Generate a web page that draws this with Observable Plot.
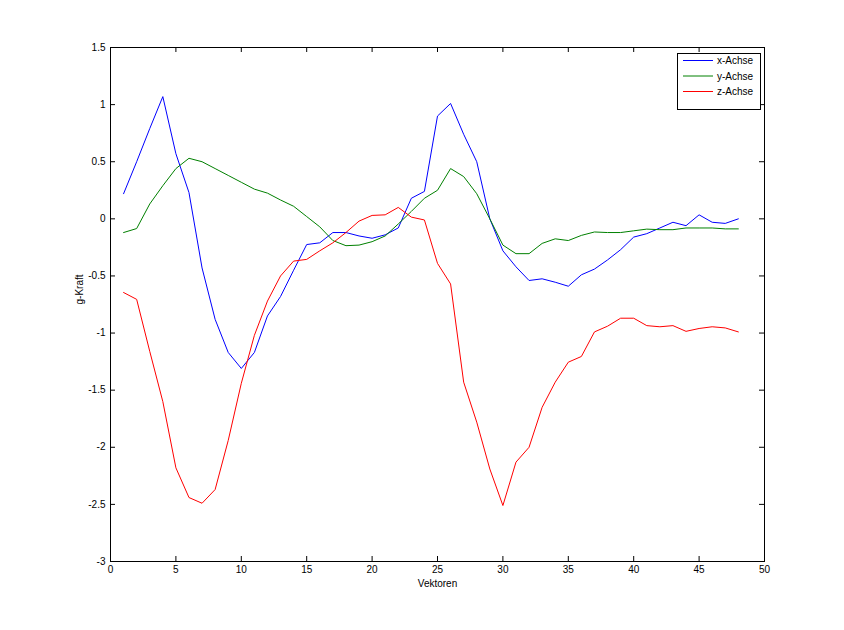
<!DOCTYPE html>
<html>
<head>
<meta charset="utf-8">
<script src="https://cdn.jsdelivr.net/npm/d3@7"></script>
<script src="https://cdn.jsdelivr.net/npm/@observablehq/plot@0.6"></script>
<style>
  html, body { margin: 0; padding: 0; background: #ffffff; }
  #wrap { position: relative; width: 844px; height: 630px; font-family: "Liberation Sans", Arial, sans-serif; }
  #legend { position: absolute; left: 677px; top: 53px; pointer-events: none; }
</style>
</head>
<body>
<div id="wrap"></div>
<script>
// ---- data ----
const vektoren = [1,2,3,4,5,6,7,8,9,10,11,12,13,14,15,16,17,18,19,20,21,22,23,24,25,26,27,28,29,30,31,32,33,34,35,36,37,38,39,40,41,42,43,44,45,46,47,48];
const xAchse = [0.22,0.50,0.79,1.07,0.57,0.23,-0.43,-0.88,-1.17,-1.31,-1.17,-0.85,-0.68,-0.45,-0.225,-0.21,-0.12,-0.12,-0.15,-0.17,-0.14,-0.08,0.18,0.24,0.90,1.01,0.74,0.50,0.00,-0.28,-0.42,-0.54,-0.525,-0.555,-0.59,-0.49,-0.44,-0.36,-0.27,-0.16,-0.13,-0.08,-0.03,-0.06,0.035,-0.03,-0.04,0.00];
const yAchse = [-0.12,-0.085,0.13,0.29,0.44,0.53,0.50,0.44,0.38,0.32,0.26,0.225,0.165,0.11,0.02,-0.07,-0.19,-0.235,-0.23,-0.20,-0.15,-0.045,0.065,0.18,0.25,0.44,0.37,0.22,0.00,-0.23,-0.305,-0.305,-0.215,-0.175,-0.19,-0.145,-0.115,-0.12,-0.12,-0.105,-0.09,-0.095,-0.095,-0.08,-0.08,-0.08,-0.088,-0.088];
const zAchse = [-0.645,-0.705,-1.16,-1.60,-2.18,-2.44,-2.49,-2.37,-1.94,-1.44,-1.02,-0.72,-0.50,-0.37,-0.355,-0.28,-0.21,-0.12,-0.02,0.03,0.035,0.10,0.015,-0.01,-0.39,-0.57,-1.43,-1.78,-2.19,-2.51,-2.13,-2.00,-1.65,-1.43,-1.255,-1.205,-0.99,-0.94,-0.87,-0.87,-0.935,-0.945,-0.935,-0.985,-0.96,-0.945,-0.955,-0.99];
const seriesNames = ["x-Achse", "y-Achse", "z-Achse"];
const seriesColors = ["#0000ff", "#008000", "#ff0000"];
const xTicks = [0,5,10,15,20,25,30,35,40,45,50];
const yTicks = [-3,-2.5,-2,-1.5,-1,-0.5,0,0.5,1,1.5];
const xLabel = "Vektoren";
const yLabel = "g-Kraft";

// ---- layout ----
const W = 844, H = 630;
const mL = 110, mR = 80, mT = 47, mB = 69;
const innerW = W - mL - mR, innerH = H - mT - mB;
const tick = 5;

const allSeries = [xAchse, yAchse, zAchse];
const rows = [];
allSeries.forEach((vals, si) => {
  vals.forEach((v, i) => rows.push({series: seriesNames[si], x: vektoren[i], y: v}));
});

const fmt = d => String(d);

const chart = Plot.plot({
  width: W, height: H,
  marginLeft: mL, marginRight: mR, marginTop: mT, marginBottom: mB,
  style: {fontFamily: "'Liberation Sans', Arial, sans-serif", fontSize: "10px", background: "#ffffff", color: "#000000", overflow: "visible"},
  x: {domain: [0, 50], label: null},
  y: {domain: [-3, 1.5], label: null},
  color: {domain: seriesNames, range: seriesColors},
  marks: [
    Plot.axisX({ticks: xTicks, tickSize: 0, tickPadding: 4, tickFormat: fmt, label: null, fontSize: 10}),
    Plot.axisY({ticks: yTicks, tickSize: 0, tickPadding: 5, tickFormat: fmt, label: null, fontSize: 10}),
    Plot.line(rows, {x: "x", y: "y", z: "series", stroke: "series", strokeWidth: 1}),
    Plot.ruleX(xTicks, {x: d => d, insetTop: innerH - tick, stroke: "#000"}),
    Plot.ruleX(xTicks, {x: d => d, insetBottom: innerH - tick, stroke: "#000"}),
    Plot.ruleY(yTicks, {y: d => d, insetRight: innerW - tick, stroke: "#000"}),
    Plot.ruleY(yTicks, {y: d => d, insetLeft: innerW - tick, stroke: "#000"}),
    Plot.frame({stroke: "#000"}),
    Plot.text([xLabel], {text: d => d, frameAnchor: "bottom", dy: 25, fontSize: 10}),
    Plot.text([yLabel], {text: d => d, frameAnchor: "left", dx: -31, rotate: -90, fontSize: 10})
  ]
});

const wrap = document.getElementById("wrap");
wrap.appendChild(chart);

// ---- legend (overlay inside the axes, MATLAB style) ----
const lw = 83, lh = 56;
const legend = d3.select(wrap).append("svg")
  .attr("id", "legend").attr("width", lw + 1).attr("height", lh + 1);
legend.append("rect").attr("x", 0.5).attr("y", 0.5).attr("width", lw).attr("height", lh)
  .attr("fill", "#fff").attr("stroke", "#000");
seriesNames.forEach((name, i) => {
  const cy = 7.5 + i * 15.5;
  legend.append("line").attr("x1", 6).attr("x2", 36).attr("y1", cy).attr("y2", cy)
    .attr("stroke", seriesColors[i]).attr("stroke-width", 1);
  legend.append("text").attr("x", 40).attr("y", cy).attr("dy", "0.35em")
    .attr("font-family", "'Liberation Sans', Arial, sans-serif").attr("font-size", 10)
    .text(name);
});
</script>
</body>
</html>
